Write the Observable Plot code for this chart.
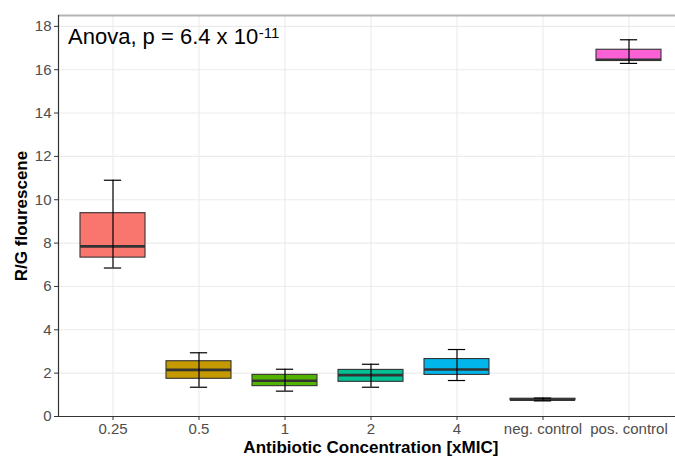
<!DOCTYPE html>
<html>
<head>
<meta charset="utf-8">
<script src="https://cdn.jsdelivr.net/npm/d3@7"></script>
<script src="https://cdn.jsdelivr.net/npm/@observablehq/plot@0.6"></script>
<style>
  html, body { margin: 0; padding: 0; background: #fff; overflow: hidden; }
  #chart svg { display: block; }
</style>
</head>
<body>
<div id="chart"></div>
<script>
// Boxplot summary per antibiotic concentration
const categories = ["0.25", "0.5", "1", "2", "4", "neg. control", "pos. control"];
const whiskerLow  = [6.85, 1.35, 1.17, 1.35, 1.66, 0.72, 16.29];
const lowerQuart  = [7.33, 1.74, 1.40, 1.60, 1.92, 0.75, 16.40];
const medians     = [7.85, 2.15, 1.65, 1.91, 2.17, 0.78, 16.46];
const upperQuart  = [9.38, 2.55, 1.92, 2.15, 2.65, 0.82, 16.92];
const whiskerHigh = [10.9, 2.94, 2.18, 2.41, 3.09, 0.85, 17.38];
const fills = ["#F8766D", "#C49A00", "#53B400", "#00C094", "#00B6EB", "#A58AFF", "#FB61D7"];
const yTicks = [0, 2, 4, 6, 8, 10, 12, 14, 16, 18];
const yMax = 18.5;

const rows = categories.map((cat, i) => ({
  cat,
  lo: whiskerLow[i],
  q1: lowerQuart[i],
  med: medians[i],
  q3: upperQuart[i],
  hi: whiskerHigh[i]
}));

const W = 675, H = 457;
const panelLeft = 58, panelTop = 15, panelBottom = 41;
// the panel extends a little past the right edge of the figure
const panelRight = 682.7;
// discrete axis: 0.6 of a step beyond the outer categories
const step = (panelRight - panelLeft) / 7.2;
const capInset = step * (0.75 - 0.2) / 2;

const font = "'Liberation Sans', Arial, Helvetica, sans-serif";

const chart = Plot.plot({
  width: W,
  height: H,
  marginLeft: panelLeft,
  marginTop: panelTop,
  marginBottom: panelBottom,
  marginRight: 0,
  style: { fontFamily: font, background: "#fff", overflow: "hidden" },
  x: { type: "band", domain: categories, range: [panelLeft, panelRight], paddingInner: 0.25, paddingOuter: 0.225, label: null },
  y: { domain: [0, yMax], label: null },
  color: { domain: categories, range: fills },
  marks: [
    Plot.gridY(yTicks, { stroke: "#ebebeb", strokeOpacity: 1, strokeWidth: 1.1 }),
    Plot.gridX(categories, { stroke: "#ebebeb", strokeOpacity: 1, strokeWidth: 1.1 }),
    Plot.ruleY([yMax], { stroke: "#b3b3b3", strokeWidth: 2 }),
    Plot.axisY(yTicks, { tickSize: 4, tickPadding: 3, fontSize: 15, color: "#4d4d4d", stroke: "#333", label: null }),
    Plot.axisX(categories, { tickSize: 4, tickPadding: 3, fontSize: 15, color: "#4d4d4d", stroke: "#333", label: null }),
    Plot.barY(rows, { x: "cat", y1: "q1", y2: "q3", fill: "cat", stroke: "#333333", strokeWidth: 1.1 }),
    Plot.tickY(rows, { x: "cat", y: "med", stroke: "#333333", strokeWidth: 2.6 }),
    Plot.ruleX(rows, { x: "cat", y1: "lo", y2: "hi", stroke: "#000", strokeWidth: 1.2 }),
    Plot.tickY(rows, { x: "cat", y: "lo", stroke: "#000", strokeWidth: 1.2, insetLeft: capInset, insetRight: capInset }),
    Plot.tickY(rows, { x: "cat", y: "hi", stroke: "#000", strokeWidth: 1.2, insetLeft: capInset, insetRight: capInset }),
    Plot.frame({ anchor: "left", stroke: "#333", strokeWidth: 1.2 }),
    Plot.ruleY([0], { stroke: "#333", strokeWidth: 1.2 }),
    Plot.text(["R/G flourescene"], {
      frameAnchor: "left", dx: -36.5, rotate: -90, textAnchor: "middle",
      fontSize: 17, fontWeight: "bold", fill: "#000"
    }),
    Plot.text(["Antibiotic Concentration [xMIC]"], {
      frameAnchor: "bottom", dx: (panelRight - W) / 2, dy: 36, lineAnchor: "bottom",
      fontSize: 17, fontWeight: "bold", fill: "#000"
    })
  ]
});

// ANOVA annotation with a superscript exponent
const svg = d3.select(chart);
const note = svg.append("text")
  .attr("x", 68)
  .attr("y", 43.5)
  .attr("text-anchor", "start")
  .attr("font-family", font)
  .attr("font-size", 22)
  .attr("fill", "#000");
note.append("tspan").text("Anova, p = 6.4 x 10");
note.append("tspan").attr("dx", 0.5).attr("dy", -5.5).attr("font-size", 15).text("-11");

document.getElementById("chart").appendChild(chart);
</script>
</body>
</html>
